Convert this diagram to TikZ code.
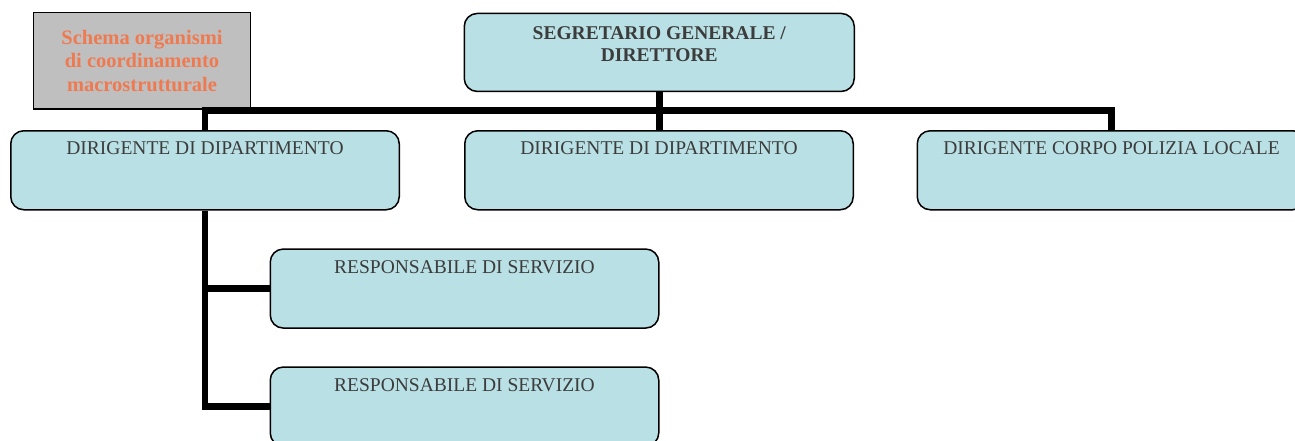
\documentclass[tikz,border=0pt]{standalone}
\usepackage{fontspec}
\setmainfont{Liberation Serif}
\definecolor{boxcyan}{RGB}{185,224,228}
\definecolor{boxgray}{RGB}{191,191,191}
\definecolor{titleorange}{RGB}{240,122,80}
\definecolor{textgray}{RGB}{60,60,60}
\usetikzlibrary{positioning,calc}

\begin{document}
\begin{tikzpicture}[x=1pt,y=-1pt,
    orgbox/.style={draw,line width=1.5pt,rounded corners=13pt,fill=boxcyan,
      minimum width=388.5pt,inner xsep=0pt,inner ysep=0pt,anchor=north west,
      text=textgray,font=\fontsize{19.5}{22.7}\selectfont,
      text height=24pt,text depth=55pt},
    graybox/.style={draw,line width=1.5pt,fill=boxgray,
      minimum width=217pt,minimum height=96.5pt,inner sep=0pt,align=center,
      text=titleorange,font=\fontsize{20.5}{23.7}\selectfont\bfseries},
    link/.style={line width=6.5pt,line join=miter}]
    \useasboundingbox (0,0) rectangle (1295,440);
    \clip (0,0) rectangle (1295,440);

    % Boxes
    \node[orgbox,font=\fontsize{19.5}{22.7}\selectfont\bfseries,align=center,
      minimum width=390pt,text height=48.3pt,text depth=29.7pt] (sg) at (463.5,12.7)
      {SEGRETARIO GENERALE /\\DIRETTORE};
    \node[graybox] (schema) at (142,60.8) {Schema organismi\\di coordinamento\\macrostrutturale};

    \node[orgbox] (dip1) at (10,130) {DIRIGENTE DI DIPARTIMENTO};
    \node[orgbox,right=64pt of dip1] (dip2) {DIRIGENTE DI DIPARTIMENTO};
    \node[orgbox,right=62.5pt of dip2] (pl) {DIRIGENTE CORPO POLIZIA LOCALE};

    \node[orgbox] (resp1) at (269.5,248.3) {RESPONSABILE DI SERVIZIO};
    \node[orgbox,below=37.5pt of resp1] (resp2) {RESPONSABILE DI SERVIZIO};

    % Connectors
    \coordinate (bus) at (659,110.5);
    \draw[link] (sg.south) -- (sg.south |- dip2.north);
    \draw[link] (dip1.north) |- (bus) -| (pl.north);
    \draw[link] (dip1.south) |- (resp1.west);
    \draw[link] (dip1.south) |- (resp2.west);
\end{tikzpicture}
\end{document}
